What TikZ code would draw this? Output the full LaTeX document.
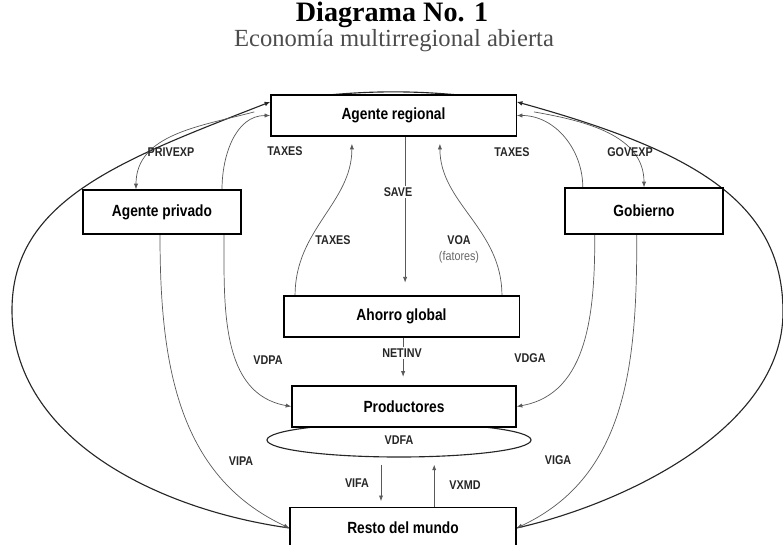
\documentclass[tikz,border=0pt]{standalone}
\usepackage{fontspec}
\setmainfont[FakeStretch=0.85]{Liberation Sans}
\newfontfamily\titlefont{Liberation Serif}
\usepackage{tikz}
\usetikzlibrary{arrows.meta,shapes.geometric,backgrounds}
\newcommand{\boxfont}{\bfseries\fontsize{11.5}{13}\selectfont}
\newcommand{\tagfont}{\bfseries\fontsize{9}{10}\selectfont}
\tikzstyle{block} = [rectangle, draw, fill=white, line width=0.9pt, text centered, minimum height=1.03cm, font=\boxfont]
\tikzstyle{line} = [draw, -{Latex[length=4pt,width=3pt]}, black!65, line width=0.5pt]
\tikzstyle{outer} = [draw, -{Latex[length=4pt,width=3.4pt]}, black!85, line width=0.8pt]
\tikzstyle{tag} = [font=\tagfont, text=black!85, inner sep=1pt]

\begin{document}
\begin{tikzpicture}[x=0.025cm, y=-0.025cm]
    \useasboundingbox (0,0) rectangle (783,545);
    \clip (0,0) rectangle (783,545);

    \node [inner sep=0pt, font=\titlefont\bfseries\fontsize{20}{22}\selectfont] (title) at (392,15) {Diagrama No. 1};
    \node [inner sep=0pt, font=\titlefont\fontsize{17.5}{19}\selectfont, text=black!70] (subtitle) at (394,41) {Economía multirregional abierta};

    \node [block, minimum width=6.13cm] (regional) at (393.5,115.5) {Agente regional};
    \node [block, minimum width=3.95cm, minimum height=1.1cm] (privado) at (162,212) {Agente privado};
    \node [block, minimum width=3.95cm, minimum height=1.15cm] (gobierno) at (644,211) {Gobierno};
    \node [block, minimum width=5.88cm] (ahorro) at (401.5,316.5) {Ahorro global};
    \node [draw, ellipse, black!85, line width=0.8pt, minimum width=6.6cm, minimum height=0.85cm, font=\tagfont, text=black!85] (vdfa) at (399,440) {VDFA};
    \node [block, minimum width=5.6cm] (productores) at (404,406.5) {Productores};
    \node [block, minimum width=5.65cm] (resto) at (403,528) {Resto del mundo};

    \node [tag] (privexp) at (171,152) {PRIVEXP};
    \node [tag] (taxes1) at (285,151) {TAXES};
    \node [tag] (taxes2) at (512,152) {TAXES};
    \node [tag] (govexp) at (630,152) {GOVEXP};
    \node [tag, fill=white] (save) at (398,192) {SAVE};
    \node [tag] (taxes3) at (333,240) {TAXES};
    \node [tag] (voa) at (459,240) {VOA};
    \node [tag, font=\fontsize{9}{10}\selectfont, text=black!60] (fatores) at (459,257) {(fatores)};
    \node [tag, fill=white] (netinv) at (402,353) {NETINV};
    \node [tag] (vdpa) at (268,360) {VDPA};
    \node [tag] (vdga) at (530,358) {VDGA};
    \node [tag] (vipa) at (241,461) {VIPA};
    \node [tag] (viga) at (558,460) {VIGA};
    \node [tag] (vifa) at (357,483) {VIFA};
    \node [tag] (vxmd) at (465,485) {VXMD};

    \begin{scope}[on background layer]
    \path [outer] (resto.west) .. controls (160,510) and (12,440) .. (12,310) .. controls (12,200) and (121,160) .. ([yshift=0.34cm]regional.west);
    \path [outer] (resto.east) .. controls (620,505) and (783,430) .. (783,312) .. controls (783,200) and (690,150) .. ([yshift=0.34cm]regional.east);
    \draw [black!85, line width=0.8pt] ([yshift=0.34cm]regional.west) to[bend left=8] ([yshift=0.34cm]regional.east);

    \path [line] ([xshift=-0.4cm,yshift=0.09cm]regional.west) to[out=195,in=90] ([xshift=-0.65cm]privado.north);
    \path [line] ([xshift=1.5cm]privado.north) to[out=90,in=180] (regional.west);
    \path [line] ([xshift=1.55cm]privado.south) to[out=-90,in=170] (productores.west);
    \path [line] ([xshift=-0.05cm]privado.south) to[out=-90,in=155] (resto.west);

    \path [line] ([xshift=0.43cm,yshift=0.09cm]regional.east) to[out=-10,in=90] (gobierno.north);
    \path [line] ([xshift=-1.53cm]gobierno.north) to[out=90,in=0] (regional.east);
    \path [line] ([xshift=-1.23cm]gobierno.south) to[out=-90,in=10] (productores.east);
    \path [line] ([xshift=-0.18cm]gobierno.south) to[out=-90,in=25] (resto.east);

    \path [line, shorten >=5pt] ([xshift=-2.66cm]ahorro.north) to[out=90,in=-90] ([xshift=-1.04cm]regional.south);
    \path [line, shorten >=5pt] ([xshift=2.51cm]ahorro.north) to[out=90,in=-90] ([xshift=1.16cm]regional.south);
    \path [line, shorten >=9pt] ([xshift=0.29cm]regional.south) -- ([xshift=0.29cm]regional.south |- ahorro.north);
    \path [line, shorten >=6pt] ([xshift=0.04cm]ahorro.south) -- ([xshift=0.04cm]ahorro.south |- productores.north);
    \path [line, shorten <=5pt, shorten >=4pt] ([xshift=-0.45cm]vdfa.south) -- ([xshift=-0.45cm]vdfa.south |- resto.north);
    \path [line, shorten >=5pt] ([xshift=0.88cm]vdfa.south |- resto.north) -- ([xshift=0.88cm]vdfa.south);
    \end{scope}
\end{tikzpicture}
\end{document}
